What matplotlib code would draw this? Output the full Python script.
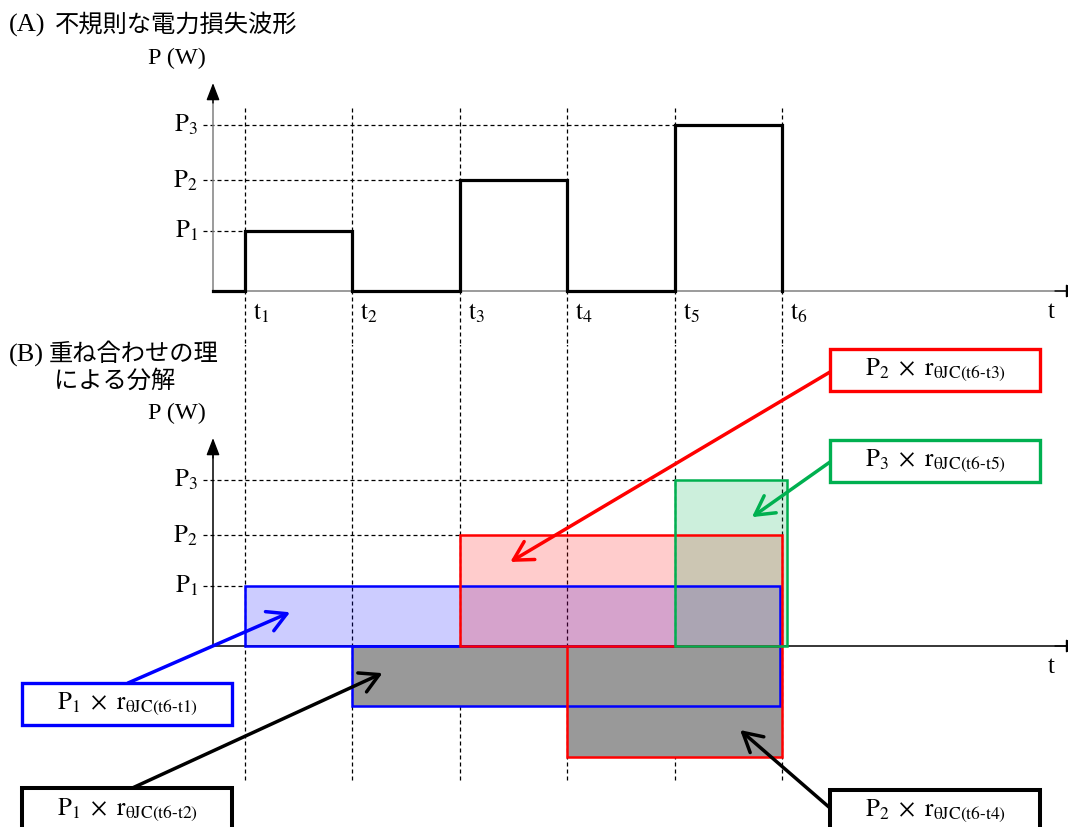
import matplotlib.pyplot as plt
from matplotlib.patches import Rectangle

plt.rcParams['font.family'] = ['Liberation Serif', 'Noto Sans CJK JP', 'DejaVu Sans']
plt.rcParams['mathtext.fontset'] = 'stix'

# time marks t1..t6 and power levels P1..P3 (arbitrary units)
t_marks = [1, 2, 3, 4, 5, 6]
t_names = [r'$\mathrm{t}_{%d}$' % i for i in range(1, 7)]
p_levels = [1.08, 2.0, 3.0]
p_names = [r'$\mathrm{P}_{1}$', r'$\mathrm{P}_{2}$', r'$\mathrm{P}_{3}$']

# (A) irregular pulses
pulse_start = [1, 3, 5]
pulse_end = [2, 4, 6]
pulse_power = [p_levels[0], p_levels[1], p_levels[2]]

# (B) superposition: steps that start at t_n and last up to t6
comp_start = [2, 4, 1, 3, 5]
comp_power = [-p_levels[0], -p_levels[1], p_levels[0], p_levels[1], p_levels[2]]
comp_end = 6
comp_texts = [
    r'$\mathrm{P}_{1}\ \times\ \mathrm{r}_{\mathrm{\theta JC(t6}\text{-}\mathrm{t2)}}$',
    r'$\mathrm{P}_{2}\ \times\ \mathrm{r}_{\mathrm{\theta JC(t6}\text{-}\mathrm{t4)}}$',
    r'$\mathrm{P}_{1}\ \times\ \mathrm{r}_{\mathrm{\theta JC(t6}\text{-}\mathrm{t1)}}$',
    r'$\mathrm{P}_{2}\ \times\ \mathrm{r}_{\mathrm{\theta JC(t6}\text{-}\mathrm{t3)}}$',
    r'$\mathrm{P}_{3}\ \times\ \mathrm{r}_{\mathrm{\theta JC(t6}\text{-}\mathrm{t5)}}$',
]

# styles
comp_face = ['#999999', '#999999', '#0000ff', '#ff0000', '#00b050']
comp_alpha = [1.0, 1.0, 0.2, 0.2, 0.2]
comp_edge = ['#0000ff', '#ff0000', '#0000ff', '#ff0000', '#00b050']
comp_end_shift = [-0.02, 0.0, -0.02, 0.0, 0.05]
box_color = ['black', 'black', '#0000ff', '#ff0000', '#00b050']
box_lw = [2.9, 2.9, 2.4, 2.4, 2.4]
# box (x0, y0, x1, y1) in pixels, arrow tail in pixels, arrow head in data
box_px = [(22, 788, 232, 860), (830, 790, 1040, 860), (22, 683, 232, 725),
          (830, 349, 1040, 391), (830, 440, 1040, 482)]
text_px = [(127, 810), (935, 811), (127, 704), (935, 370), (935, 461)]
tail_px = [(128, 790), (830, 808), (128, 683), (830, 372), (830, 462)]
head_dat = [(2.28, -0.49), (5.61, -1.52), (1.42, 0.61), (3.47, 1.52), (5.72, 2.33)]

W, H = 1068, 827
PX_T = 107.4   # pixels per t step
T1_PX = 245
PX_P = 55.3    # pixels per power unit
XMIN = 1 - T1_PX / PX_T
XMAX = 1 + (W - T1_PX) / PX_T
T_AXIS = 1 - 32 / PX_T
T_DASH0 = 1 - 42 / PX_T


def fx(px):
    return px / W


def fy(py):
    return 1 - py / H


fig = plt.figure(figsize=(W / 100, H / 100), dpi=100)


def make_axes(top_px, bot_px, base_px):
    ax = fig.add_axes([0, fy(bot_px), 1, (bot_px - top_px) / H])
    ax.set_xlim(XMIN, XMAX)
    ax.set_ylim(-(bot_px - base_px) / PX_P, (base_px - top_px) / PX_P)
    ax.set_axis_off()
    return ax


def draw_frame(ax, axis_color, dash_from, dash_to, t_labels):
    dash = (0, (3.2, 2.4))
    for t in t_marks:
        ax.plot([t, t], [dash_from, dash_to], color='black', lw=0.9, ls=dash, zorder=0.5)
    for p, s, name in zip(p_levels, [1, 3, 5], p_names):
        ax.plot([T_DASH0, s], [p, p], color='black', lw=0.9, ls=dash, zorder=0.5)
        ax.text(T_AXIS - 15 / PX_T, p, name, ha='right', va='center', fontsize=18)
    if t_labels:
        for t, name in zip(t_marks, t_names):
            ax.text(t + 8 / PX_T, -22 / PX_P, name, ha='left', va='center', fontsize=18)
    ax.text(1 + (1051 - T1_PX) / PX_T, -21 / PX_P, 't', ha='center', va='center', fontsize=18)
    ax.text(1 - 68 / PX_T, 4.2, 'P (W)', ha='center', va='center', fontsize=17.5)
    # axes with arrow heads
    ax.plot([T_AXIS, XMAX], [0, 0], color=axis_color, lw=1.1, zorder=1)
    ax.plot([T_AXIS, T_AXIS], [0, 3.5], color=axis_color, lw=1.1, zorder=1)
    head = dict(arrowstyle='-|>,head_length=0.7,head_width=0.27', color='black',
                lw=1, mutation_scale=15, shrinkA=0, shrinkB=0)
    ax.annotate('', xy=(T_AXIS, 3.76), xytext=(T_AXIS, 3.4), arrowprops=head)
    ax.annotate('', xy=(1 + (1083 - T1_PX) / PX_T, 0), xytext=(1 + (1055 - T1_PX) / PX_T, 0),
                arrowprops=head, annotation_clip=False)


# (A) panel
ax_a = make_axes(0, 345, 291)
draw_frame(ax_a, '#808080', 3.31, -1.0, True)
xs, ys = [T_AXIS], [0]
for s, e, p in zip(pulse_start, pulse_end, pulse_power):
    xs += [s, s, e, e]
    ys += [0, p, p, 0]
ax_a.plot(xs, ys, color='black', lw=2.3, solid_joinstyle='miter', zorder=2)

# (B) panel
ax_b = make_axes(345, 827, 646)
draw_frame(ax_b, 'black', 5.5, -2.42, False)
for s, p, fc, a, ec, d in zip(comp_start, comp_power, comp_face, comp_alpha, comp_edge, comp_end_shift):
    ax_b.add_patch(Rectangle((s, 0), comp_end + d - s, p, facecolor=fc, alpha=a,
                             edgecolor='none', zorder=1))
for s, p, ec, d in zip(comp_start, comp_power, comp_edge, comp_end_shift):
    ax_b.add_patch(Rectangle((s, 0), comp_end + d - s, p, fill=False,
                             edgecolor=ec, lw=1.8, zorder=1.5))

# annotation boxes and arrows
for txt, c, lw, (x0, y0, x1, y1), (tx, ty), (ax_, ay_), hd in zip(
        comp_texts, box_color, box_lw, box_px, text_px, tail_px, head_dat):
    ax_b.annotate('', xy=hd, xycoords='data', xytext=(fx(ax_), fy(ay_)),
                  textcoords='figure fraction', annotation_clip=False,
                  arrowprops=dict(arrowstyle='->,head_length=0.9,head_width=0.5', color=c,
                                  lw=2.5, mutation_scale=15, shrinkA=0, shrinkB=0))
    fig.add_artist(Rectangle((fx(x0), fy(y1)), (x1 - x0) / W, (y1 - y0) / H,
                             transform=fig.transFigure, facecolor='white', edgecolor=c,
                             lw=lw, zorder=5))
    fig.text(fx(tx), fy(ty), txt, ha='center', va='center', fontsize=18, zorder=6)

# titles
fig.text(fx(9), fy(25), '(A)', fontsize=19, va='center')
fig.text(fx(55), fy(25), '不規則な電力損失波形', fontsize=17.5, va='center')
fig.text(fx(9), fy(355), '(B)', fontsize=19, va='center')
fig.text(fx(49), fy(355), '重ね合わせの理', fontsize=17.5, va='center')
fig.text(fx(115), fy(381), 'による分解', fontsize=17.5, va='center', ha='center')

fig.savefig('out.png', dpi=100)
